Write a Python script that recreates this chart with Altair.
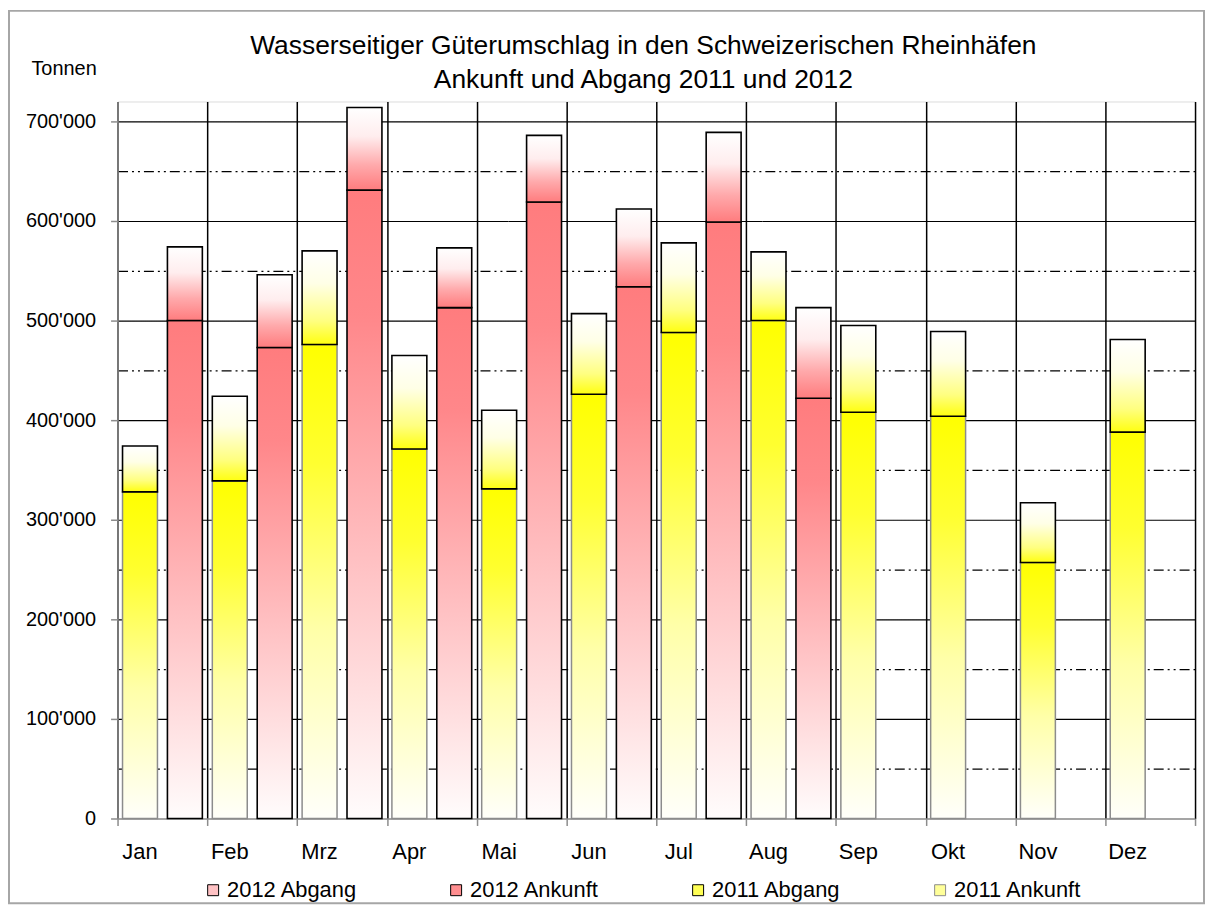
import altair as alt
import pandas as pd

months = ["Jan", "Feb", "Mrz", "Apr", "Mai", "Jun", "Jul", "Aug", "Sep", "Okt", "Nov", "Dez"]
ankunft_2011 = [328000, 339000, 476000, 371000, 331000, 426000, 488000, 500000, 408000, 404000, 257000, 388000]
abgang_2011 = [46000, 85000, 94000, 94000, 79000, 81000, 90000, 69000, 87000, 85000, 60000, 93000]
ankunft_2012 = [500000, 473000, 631000, 513000, 619000, 534000, 599000, 422000]
abgang_2012 = [74000, 73000, 83000, 60000, 67000, 78000, 90000, 91000]
series_names = ["2012 Abgang", "2012 Ankunft", "2011 Abgang", "2011 Ankunft"]
y_ticks = list(range(0, 700001, 50000))

rows = []
for i, m in enumerate(months):
    a, b = ankunft_2011[i], abgang_2011[i]
    rows.append(dict(month=m, year="2011", series="2011 Ankunft", lo=0, hi=a))
    rows.append(dict(month=m, year="2011", series="2011 Abgang", lo=a, hi=a + b))
for i in range(len(ankunft_2012)):
    m = months[i]
    a, b = ankunft_2012[i], abgang_2012[i]
    rows.append(dict(month=m, year="2012", series="2012 Ankunft", lo=0, hi=a))
    rows.append(dict(month=m, year="2012", series="2012 Abgang", lo=a, hi=a + b))
df = pd.DataFrame(rows)

FONT = "Liberation Sans, Arial, Helvetica, sans-serif"
GREY = "#8c8c8c"


def grad(stops):
    return alt.Gradient(
        gradient="linear", x1=0, x2=0, y1=0, y2=1,
        stops=[alt.GradientStop(offset=o, color=c) for o, c in stops],
    )


g_ank_2011 = grad([(0, "#FFFF00"), (0.25, "#FFFF30"), (0.6, "#FFFFA8"), (1, "#FFFFFA")])
g_abg_2011 = grad([(0, "#FFFFFF"), (0.35, "#FFFFE6"), (0.75, "#FFFF80"), (1, "#FFFF10")])
g_ank_2012 = grad([(0, "#FF7C7E"), (0.2, "#FF878A"), (0.6, "#FFC2C4"), (1, "#FFFCFC")])
g_abg_2012 = grad([(0, "#FFFFFF"), (0.35, "#FFEDEE"), (0.7, "#FFA9AB"), (1, "#FF7C7E")])

x_enc = alt.X(
    "month:N",
    sort=months,
    scale=alt.Scale(domain=months, paddingInner=0, paddingOuter=0),
    axis=alt.Axis(
        title="",
        grid=True, gridColor="#000000", gridWidth=1.5,
        tickBand="extent", tickColor=GREY, tickSize=7, tickWidth=1.5,
        domainColor=GREY, domainWidth=1.5,
        labels=False,
    ),
)
xo_enc = alt.XOffset(
    "year:N",
    scale=alt.Scale(domain=["2011", "2012"], paddingInner=0.222, paddingOuter=0.111),
)
y_enc = alt.Y(
    "hi:Q",
    scale=alt.Scale(domain=[0, 720000], nice=False),
    axis=alt.Axis(
        values=y_ticks,
        grid=True, gridColor="#000000", gridWidth=1.2,
        gridDash={"condition": {"test": "datum.value % 100000 != 0", "value": [10, 4, 2, 4, 2, 4]}, "value": [1, 0]},
        gridOpacity={"condition": {"test": "datum.value == 0", "value": 0}, "value": 1},
        tickOpacity={"condition": {"test": "datum.value % 100000 != 0", "value": 0}, "value": 1},
        tickColor=GREY, tickSize=7, tickWidth=1.5,
        domainColor=GREY, domainWidth=1.5,
        labelExpr="datum.value % 100000 == 0 ? replace(format(datum.value, ','), ',', \"'\") : ''",
        labelFontSize=20, labelPadding=15, labelColor="#000000", labelFont=FONT,
        labelOverlap=False,
        title="Tonnen", titleAngle=0, titleX=-87, titleY=-27,
        titleAlign="left", titleBaseline="alphabetic",
        titleFontSize=20, titleFontWeight="normal", titleFont=FONT, titleColor="#000000",
    ),
)

base = alt.Chart(df).encode(x=x_enc, xOffset=xo_enc, y=y_enc, y2="lo:Q")


def layer(name, g, stroke, sw=1.6):
    return base.transform_filter(alt.datum.series == name).mark_bar(
        fill=g, stroke=stroke, strokeWidth=sw
    )


l_ank_2011 = layer("2011 Ankunft", g_ank_2011, GREY, 1.5)
l_ank_2012 = layer("2012 Ankunft", g_ank_2012, "#000000")
l_abg_2011 = layer("2011 Abgang", g_abg_2011, "#000000")
l_abg_2012 = layer("2012 Abgang", g_abg_2012, "#000000")

month_labels = alt.Chart(df).transform_filter(
    alt.datum.series == "2011 Ankunft"
).mark_text(fontSize=22, font=FONT, color="#000000", baseline="middle", align="center").encode(
    x=alt.X("month:N", sort=months),
    xOffset=alt.XOffset("year:N"),
    y=alt.value(754),
    text="month:N",
)

leg = alt.Legend(
    title=None, orient="none", legendX=85, legendY=781, direction="horizontal",
    symbolType="square", symbolSize=121, symbolStrokeWidth=1,
    labelFontSize=22, labelFont=FONT, labelColor="#000000", labelOffset=3,
    columnPadding=88,
)
legend_layer = base.transform_filter("false").mark_bar().encode(
    color=alt.Color(
        "series:N",
        scale=alt.Scale(domain=series_names, range=["#FFC2C4", "#FF8E90", "#FFFF55", "#FFFF99"]),
        legend=leg,
    ),
    stroke=alt.Stroke(
        "series:N",
        scale=alt.Scale(domain=series_names, range=["#000000", "#000000", "#000000", GREY]),
        legend=leg,
    ),
)

frame = alt.Chart(alt.Data(values=[{"k": 1}])).mark_rect(
    filled=False, stroke="#a6a6a6", strokeWidth=2
).encode(x=alt.value(-109), x2=alt.value(1091), y=alt.value(-91), y2=alt.value(805))

chart = alt.layer(
    l_ank_2011, l_ank_2012, l_abg_2011, l_abg_2012, legend_layer, month_labels, frame
).properties(
    width=1082,
    height=720,
    padding={"left": 110, "top": 92, "right": 10, "bottom": 90},
    autosize=alt.AutoSizeParams(type="none"),
    title=alt.TitleParams(
        text=["Wasserseitiger Güterumschlag in den Schweizerischen Rheinhäfen",
              "Ankunft und Abgang 2011 und 2012"],
        fontSize=26.5, fontWeight="normal", font=FONT, color="#000000",
        anchor="middle", dx=-13, dy=92, lineHeight=34, offset=8,
    ),
).configure_view(stroke="transparent").configure(background="#FFFFFF")

chart.save("out.html", embed_options={"renderer": "svg", "actions": False})
